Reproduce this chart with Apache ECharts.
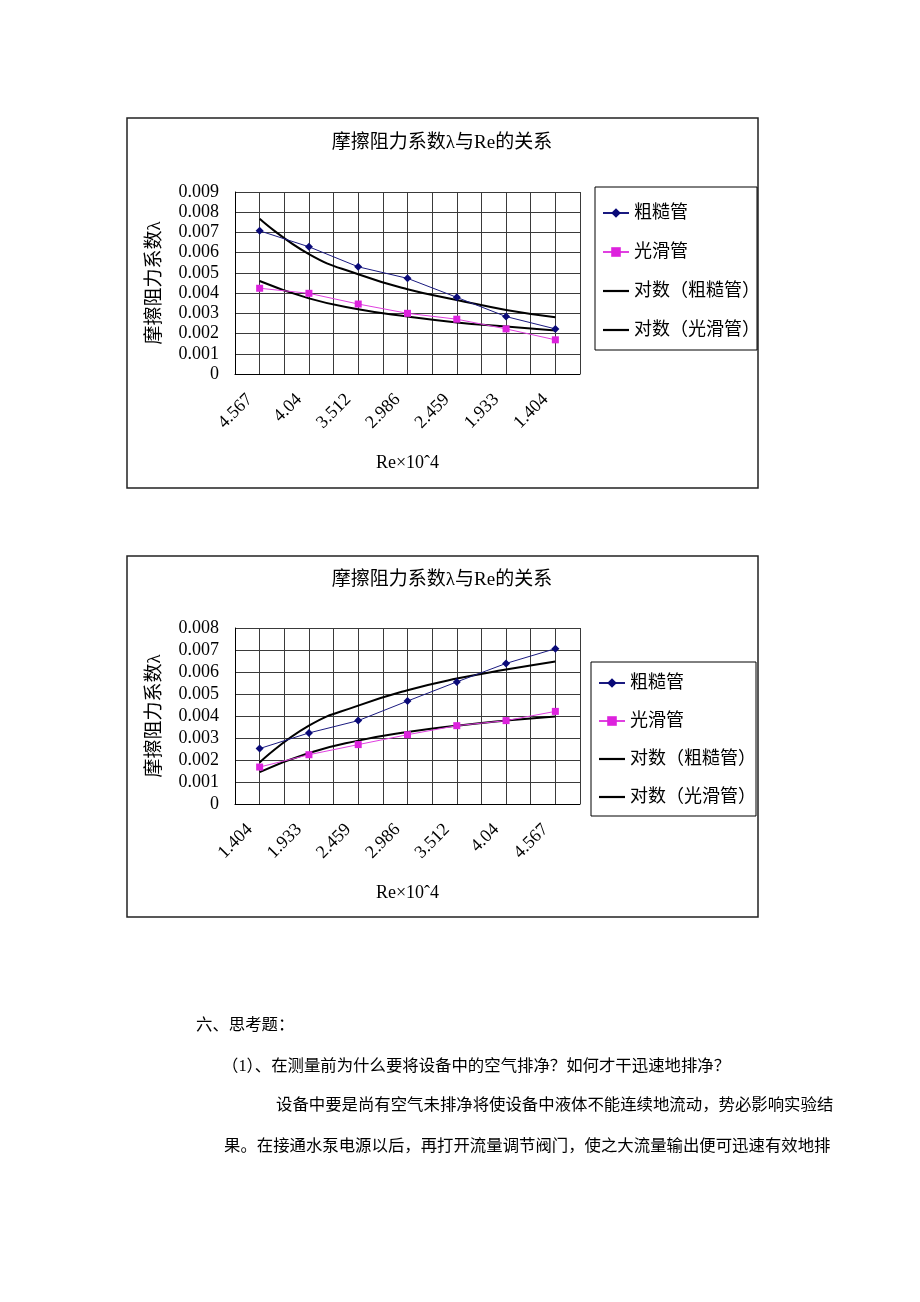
<!DOCTYPE html>
<html>
<head>
<meta charset="utf-8">
<script src="https://cdn.jsdelivr.net/npm/echarts@6/dist/echarts.min.js"></script>
<style>
html,body{margin:0;padding:0;background:#fff;}
#main{width:920px;height:1302px;}
</style>
</head>
<body>
<div id="main"></div>
<script>
// ---- Data ----
var chartTitle = '摩擦阻力系数λ与Re的关系';
var yAxisName = '摩擦阻力系数λ';
var xAxisName = 'Re×10ˆ4';
var seriesNames = ['粗糙管', '光滑管', '对数（粗糙管）', '对数（光滑管）'];

// Chart 1 (Re decreasing)
var cats1 = ['4.567', '4.04', '3.512', '2.986', '2.459', '1.933', '1.404'];
var rough1 = [0.00708, 0.00629, 0.00530, 0.00473, 0.00379, 0.00284, 0.00223];
var smooth1 = [0.00424, 0.00399, 0.00346, 0.00300, 0.00271, 0.00223, 0.00169];
var roughTrend1 = [0.00768, 0.00593, 0.00493, 0.00419, 0.00366, 0.00317, 0.00281];
var smoothTrend1 = [0.00460, 0.00374, 0.00320, 0.00284, 0.00255, 0.00235, 0.00215];
var yMax1 = 0.009;

// Chart 2 (Re increasing)
var cats2 = ['1.404', '1.933', '2.459', '2.986', '3.512', '4.04', '4.567'];
var rough2 = [0.00252, 0.00323, 0.00379, 0.00468, 0.00555, 0.00639, 0.00706];
var smooth2 = [0.00168, 0.00224, 0.00270, 0.00315, 0.00356, 0.00379, 0.00421];
var roughTrend2 = [0.00189, 0.00356, 0.00447, 0.00517, 0.00570, 0.00611, 0.00648];
var smoothTrend2 = [0.00145, 0.00232, 0.00288, 0.00327, 0.00356, 0.00379, 0.00398];
var yMax2 = 0.008;

// Body text below the charts
var bodyLines = [
  '六、思考题：',
  '（1）、在测量前为什么要将设备中的空气排净？如何才干迅速地排净？',
  '设备中要是尚有空气未排净将使设备中液体不能连续地流动，势必影响实验结',
  '果。在接通水泵电源以后，再打开流量调节阀门，使之大流量输出便可迅速有效地排'
];

// ---- Styling ----
var FONT = "'Liberation Serif', 'Noto Sans CJK SC', serif";
var GRID_COLOR = '#3a3a3a';
var TREND_ICON = 'path://M0,0H26V2.2H0Z';

function yLabel(v) { return v === 0 ? '0' : v.toFixed(3); }

function makeXAxes(gridIndex, cats, nameGap) {
  return [
    {
      type: 'category', gridIndex: gridIndex, data: cats, boundaryGap: true,
      axisLine: { lineStyle: { color: '#000', width: 1 } },
      axisTick: { show: false },
      splitLine: { show: false },
      axisLabel: { rotate: 45, margin: 13, padding: [0, 14, 0, 0], color: '#000', fontFamily: FONT, fontSize: 18 },
      name: xAxisName, nameLocation: 'middle', nameGap: nameGap,
      nameTextStyle: { color: '#000', fontFamily: FONT, fontSize: 18 }
    },
    {
      type: 'value', gridIndex: gridIndex, min: 0, max: 14, interval: 1, position: 'bottom',
      axisLine: { show: false }, axisTick: { show: false }, axisLabel: { show: false },
      splitLine: { show: true, lineStyle: { color: GRID_COLOR, width: 1 } }
    }
  ];
}

function makeYAxis(gridIndex, max) {
  return {
    type: 'value', gridIndex: gridIndex, min: 0, max: max, interval: 0.001,
    axisLine: { show: true, lineStyle: { color: '#000', width: 1 } },
    axisTick: { show: false },
    axisLabel: { formatter: yLabel, margin: 16, color: '#000', fontFamily: FONT, fontSize: 18 },
    splitLine: { show: true, lineStyle: { color: GRID_COLOR, width: 1 } },
    name: yAxisName, nameLocation: 'middle', nameGap: 70,
    nameTextStyle: { color: '#000', fontFamily: FONT, fontSize: 19 }
  };
}

function makeSeries(xIdx, yIdx, rough, smooth, roughT, smoothT) {
  return [
    { name: seriesNames[0], type: 'line', xAxisIndex: xIdx, yAxisIndex: yIdx, data: rough,
      symbol: 'diamond', symbolSize: 8, color: '#0a0a78',
      lineStyle: { width: 1, color: '#1a1a80' }, itemStyle: { color: '#0a0a78' }, z: 4 },
    { name: seriesNames[1], type: 'line', xAxisIndex: xIdx, yAxisIndex: yIdx, data: smooth,
      symbol: 'rect', symbolSize: 7, color: '#dd22dd',
      lineStyle: { width: 1, color: '#e040e0' }, itemStyle: { color: '#dd22dd' }, z: 4 },
    { name: seriesNames[2], type: 'line', xAxisIndex: xIdx, yAxisIndex: yIdx, data: roughT,
      symbol: 'none', smooth: true, color: '#000',
      lineStyle: { width: 2, color: '#000' }, z: 3 },
    { name: seriesNames[3], type: 'line', xAxisIndex: xIdx, yAxisIndex: yIdx, data: smoothT,
      symbol: 'none', smooth: true, color: '#000',
      lineStyle: { width: 2, color: '#000' }, z: 3 }
  ];
}

function makeLegend(left, top, gap) {
  return {
    data: [
      { name: seriesNames[0] },
      { name: seriesNames[1] },
      { name: seriesNames[2], icon: TREND_ICON },
      { name: seriesNames[3], icon: TREND_ICON }
    ],
    orient: 'vertical', left: left, top: top, padding: 0,
    itemGap: gap, itemWidth: 26, itemHeight: 12, selectedMode: false,
    textStyle: { color: '#000', fontFamily: FONT, fontSize: 18, lineHeight: 20 }
  };
}

var graphics = [
  { type: 'rect', shape: { x: 127, y: 118, width: 631, height: 370 }, style: { fill: 'none', stroke: '#222', lineWidth: 1.5 }, silent: true },
  { type: 'rect', shape: { x: 127, y: 556, width: 631, height: 361 }, style: { fill: 'none', stroke: '#222', lineWidth: 1.5 }, silent: true },
  { type: 'rect', shape: { x: 595, y: 187, width: 162, height: 163 }, style: { fill: 'none', stroke: '#000', lineWidth: 1 }, silent: true },
  { type: 'rect', shape: { x: 591, y: 662, width: 165, height: 154 }, style: { fill: 'none', stroke: '#000', lineWidth: 1 }, silent: true }
];
var bodyPos = [[196, 1026], [222, 1067], [276, 1106], [224, 1147]];
bodyLines.forEach(function (t, i) {
  graphics.push({
    type: 'text', x: bodyPos[i][0], y: bodyPos[i][1], silent: true,
    style: { text: t, fill: '#000', fontFamily: FONT, fontSize: 16.4, verticalAlign: 'middle', align: 'left' }
  });
});

var option = {
  backgroundColor: '#fff',
  animation: false,
  title: [
    { text: chartTitle, left: 442, top: 134, textAlign: 'center', padding: 0,
      textStyle: { color: '#000', fontFamily: FONT, fontSize: 19, fontWeight: 'normal' } },
    { text: chartTitle, left: 442, top: 571, textAlign: 'center', padding: 0,
      textStyle: { color: '#000', fontFamily: FONT, fontSize: 19, fontWeight: 'normal' } }
  ],
  legend: [makeLegend(602, 203, 19), makeLegend(598, 673, 18)],
  grid: [
    { left: 235, top: 192, width: 345, height: 182, containLabel: false },
    { left: 235, top: 628, width: 345, height: 176, containLabel: false }
  ],
  xAxis: makeXAxes(0, cats1, 80).concat(makeXAxes(1, cats2, 80)),
  yAxis: [makeYAxis(0, yMax1), makeYAxis(1, yMax2)],
  series: makeSeries(0, 0, rough1, smooth1, roughTrend1, smoothTrend1)
    .concat(makeSeries(2, 1, rough2, smooth2, roughTrend2, smoothTrend2)),
  graphic: graphics
};

var chart = echarts.init(document.getElementById('main'), null, { renderer: 'canvas', width: 920, height: 1302 });
chart.setOption(option);
</script>
</body>
</html>
